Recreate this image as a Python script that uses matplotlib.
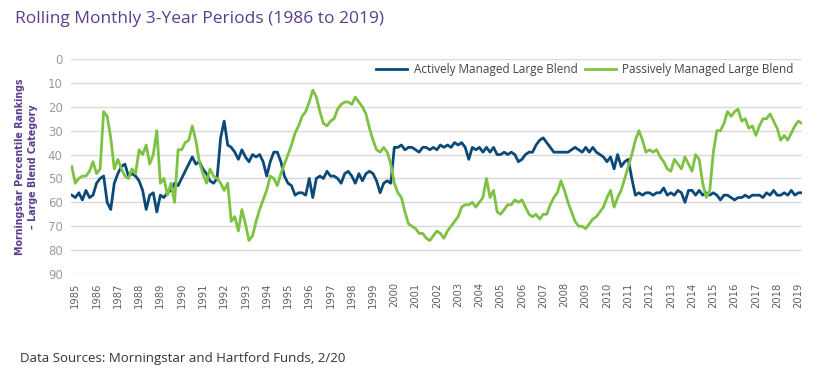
import numpy as np
import pandas as pd
import matplotlib
matplotlib.use("Agg")
import matplotlib.pyplot as plt

# Rolling 3-year percentile rankings, sampled every two months (Nov 1984 - Mar 2019)
dates = pd.date_range("1984-11-01", "2019-03-01", freq="2MS")

active = [
    57,
    58, 56, 59, 55, 58, 57,  # 1985
    52, 50, 49, 60, 63, 52,  # 1986
    48, 45, 44, 49, 48, 49,  # 1987
    51, 55, 63, 57, 56, 64,  # 1988
    57, 58, 56, 55, 52, 53,  # 1989
    50, 47, 44, 41, 44, 43,  # 1990
    46, 48, 51, 52, 50, 33,  # 1991
    26, 36, 37, 39, 42, 38,  # 1992
    41, 43, 40, 41, 40, 43,  # 1993
    49, 43, 39, 39, 43, 49,  # 1994
    52, 53, 57, 56, 56, 57,  # 1995
    50, 58, 50, 49, 50, 47,  # 1996
    49, 49, 50, 52, 48, 47,  # 1997
    49, 52, 48, 51, 48, 47,  # 1998
    48, 51, 56, 52, 51, 52,  # 1999
    37, 37, 36, 38, 37, 37,  # 2000
    38, 39, 37, 37, 38, 37,  # 2001
    38, 36, 37, 36, 37, 35,  # 2002
    36, 35, 37, 42, 37, 38,  # 2003
    37, 39, 37, 39, 37, 40,  # 2004
    40, 39, 40, 39, 40, 43,  # 2005
    42, 40, 39, 39, 36, 34,  # 2006
    33, 35, 37, 39, 39, 39,  # 2007
    39, 39, 38, 37, 38, 39,  # 2008
    37, 39, 37, 39, 40, 41,  # 2009
    43, 41, 46, 40, 45, 43,  # 2010
    42, 50, 57, 56, 57, 56,  # 2011
    56, 57, 56, 56, 54, 57,  # 2012
    56, 57, 55, 56, 60, 55,  # 2013
    55, 57, 55, 57, 56, 57,  # 2014
    56, 57, 59, 57, 57, 58,  # 2015
    59, 58, 58, 57, 58, 57,  # 2016
    57, 57, 58, 56, 57, 55,  # 2017
    57, 57, 56, 57, 55, 57,  # 2018
    56, 56,                  # 2019
]

passive = [
    45,
    52, 50, 49, 49, 47, 43,  # 1985
    48, 46, 22, 24, 33, 46,  # 1986
    42, 46, 49, 50, 46, 48,  # 1987
    38, 40, 36, 44, 40, 30,  # 1988
    52, 50, 57, 52, 60, 38,  # 1989
    38, 35, 34, 28, 34, 43,  # 1990
    48, 52, 46, 49, 50, 52,  # 1991
    55, 52, 68, 66, 72, 63,  # 1992
    69, 76, 74, 68, 63, 59,  # 1993
    55, 49, 50, 53, 48, 44,  # 1994
    40, 36, 31, 28, 24, 22,  # 1995
    18, 13, 16, 22, 27, 28,  # 1996
    26, 25, 21, 19, 18, 18,  # 1997
    19, 16, 18, 20, 23, 29,  # 1998
    34, 38, 39, 37, 39, 44,  # 1999
    52, 56, 58, 64, 69, 70,  # 2000
    71, 73, 73, 75, 76, 74,  # 2001
    72, 73, 75, 72, 70, 68,  # 2002
    66, 62, 61, 61, 60, 62,  # 2003
    60, 58, 50, 58, 55, 64,  # 2004
    65, 63, 61, 61, 59, 60,  # 2005
    59, 62, 65, 66, 65, 67,  # 2006
    65, 65, 61, 58, 56, 51,  # 2007
    55, 60, 64, 68, 70, 70,  # 2008
    71, 69, 67, 66, 64, 62,  # 2009
    58, 55, 62, 58, 55, 50,  # 2010
    45, 40, 34, 30, 34, 39,  # 2011
    38, 39, 38, 41, 43, 46,  # 2012
    47, 42, 44, 46, 41, 44,  # 2013
    47, 40, 42, 52, 58, 55,  # 2014
    39, 30, 30, 27, 22, 24,  # 2015
    22, 21, 26, 25, 29, 28,  # 2016
    32, 28, 25, 25, 23, 26,  # 2017
    29, 34, 32, 34, 31, 28,  # 2018
    26, 27,                  # 2019
]

years = list(range(1985, 2020))
y_ticks = list(range(0, 100, 10))

x = dates.year + (dates.month - 1) / 12

navy = "#0b4a78"
green = "#7dc242"
purple = "#5b3d8c"

fig = plt.figure(figsize=(8.27, 3.77), dpi=100)
ax = fig.add_axes([0.0859, 0.2732, 0.8839, 0.5703])

ax.plot(x, active, color=navy, lw=2.0, label="Actively Managed Large Blend", zorder=3)
ax.plot(x, passive, color=green, lw=2.0, label="Passively Managed Large Blend", zorder=3)

ax.set_xlim(1984.8, 2019.17)
ax.set_ylim(90, 0)
ax.set_yticks(y_ticks)
ax.set_xticks(years)
ax.set_xticklabels([str(y) for y in years], rotation=90, family="DejaVu Sans",
                   fontstretch="condensed", fontsize=8, color="#606060")
ax.tick_params(axis="y", length=0, pad=6, labelsize=8.5, labelcolor="#9a9a9a")
ax.tick_params(axis="x", length=0, pad=6)
ax.yaxis.grid(True, color="#d9d9d9", lw=1)
ax.xaxis.grid(False)
for s in ax.spines.values():
    s.set_visible(False)

ax.set_ylabel("Morningstar Percentile Rankings\n\u2013 Large Blend Category",
              family="DejaVu Sans", fontstretch="condensed", fontweight="bold",
              fontsize=7.7, color=purple, labelpad=7, linespacing=1.4)

leg = ax.legend(loc="upper right", ncol=2, frameon=False,
                bbox_to_anchor=(1.003, 1.03), handlelength=2.6, handletextpad=0.55,
                columnspacing=0.65, prop={"family": "Open Sans", "size": 8.5})
for t in leg.get_texts():
    t.set_color("#444444")

fig.text(0.018, 0.95, "Rolling Monthly 3-Year Periods (1986 to 2019)",
         family="Open Sans", fontsize=12.5, color=purple, va="center")
fig.text(0.024, 0.05, "Data Sources: Morningstar and Hartford Funds, 2/20",
         family="Open Sans", fontsize=9.5, color="#333333", va="center")

fig.savefig("out.png", dpi=100)
